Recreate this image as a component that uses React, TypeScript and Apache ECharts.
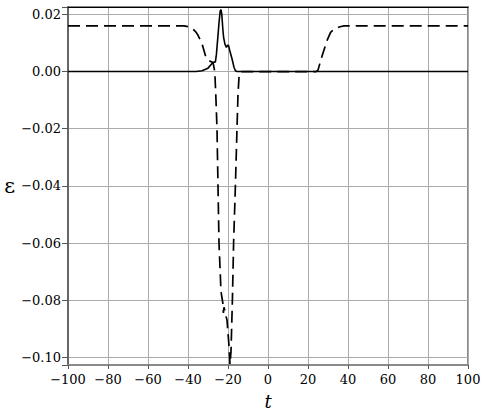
import React, { useEffect, useRef } from "react";
import * as echarts from "echarts";

// t values / epsilon values (solid curve)
const solidT = [-100, -36, -33, -30, -28, -27, -26.3, -25.8, -25.2, -24.5, -23.9, -23.5, -23.1, -22.6, -22.2, -21.5, -20.8, -20.2, -19.7, -19, -18, -17, -16.3, -15.5, 100];
const solidV = [0, 0, 0.0003, 0.0012, 0.0028, 0.0033, 0.0034, 0.006, 0.011, 0.017, 0.0212, 0.0217, 0.02, 0.015, 0.012, 0.0095, 0.0085, 0.0092, 0.0091, 0.007, 0.0045, 0.0015, 0.0003, 0, 0];

// dashed curve
const dashT = [-100, -42, -40, -38.5, -37.5, -36, -35, -33, -31.3, -29.5, -27.5, -26.6, -26, -25.5, -25, -24.5, -23.5, -22.6, -22.3, -22.0, -21.8, -21.2, -20.5, -19.5, -19, -18.5, -17.8, -17.2, -16.3, -15.5, -15, -14.5, -14, -13, 24, 25, 26, 27.5, 29.6, 31.3, 32.8, 34, 36, 38, 100];
const dashV = [0.016, 0.016, 0.0157, 0.0152, 0.0149, 0.0138, 0.0127, 0.0098, 0.0056, 0.0038, 0.0032, 0.0, -0.01, -0.02, -0.04, -0.06, -0.077, -0.081, -0.0845, -0.0825, -0.083, -0.085, -0.087, -0.096, -0.1025, -0.098, -0.08, -0.06, -0.04, -0.02, -0.008, -0.002, -0.0003, 0, 0, 0.0005, 0.003, 0.0065, 0.011, 0.0137, 0.0147, 0.0152, 0.0157, 0.016, 0.016];

const xTicks = [-100, -80, -60, -40, -20, 0, 20, 40, 60, 80, 100];
const yMin = -0.1027;
const yMax = 0.0226;

const FONT = "DejaVu Serif";

function fmtY(v: number): string {
  const k = v / 0.02;
  if (Math.abs(k - Math.round(k)) > 1e-6) return "";
  const r = Math.round(k) * 0.02;
  const s = Math.abs(r).toFixed(2);
  return r < -1e-9 ? "\u2212" + s : s;
}

export default function App() {
  const ref = useRef<HTMLDivElement>(null);
  useEffect(() => {
    if (!ref.current) return;
    const chart = echarts.init(ref.current, null, { renderer: "svg" });
    const solid = solidT.map((t, i) => [t, solidV[i]]);
    const dashed = dashT.map((t, i) => [t, dashV[i]]);
    chart.setOption({
      animation: false,
      backgroundColor: "#ffffff",
      textStyle: { fontFamily: FONT },
      grid: {
        left: 68,
        right: 16,
        top: 7,
        bottom: 51,
        show: true,
        borderColor: "#8a8a8a",
        borderWidth: 2,
      },
      xAxis: [
        {
          type: "value",
          min: xTicks[0],
          max: xTicks[xTicks.length - 1],
          interval: 20,
          name: "t",
          nameLocation: "middle",
          nameGap: 27,
          nameTextStyle: { fontFamily: FONT, fontSize: 18, fontStyle: "italic", color: "#000" },
          axisLine: { show: true, onZero: false, lineStyle: { color: "#8a8a8a", width: 2 } },
          axisTick: { show: true, length: 4, lineStyle: { color: "#555" } },
          axisLabel: {
            fontFamily: FONT,
            fontSize: 13,
            color: "#000",
            margin: 8,
            formatter: (v: number) => (v < 0 ? "\u2212" + Math.abs(v) : String(v)),
          },
          splitLine: { show: true, lineStyle: { color: "#ababab", width: 1 } },
        },
        {
          type: "value",
          position: "top",
          min: -100,
          max: 100,
          interval: 20,
          axisLine: { show: true, onZero: false, lineStyle: { color: "#000", width: 1 } },
          axisTick: { show: false },
          axisLabel: { show: false },
          splitLine: { show: false },
        },
      ],
      yAxis: {
        type: "value",
        min: yMin,
        max: yMax,
        splitNumber: 6,
        name: "\u03b5",
        nameLocation: "middle",
        nameRotate: 0,
        nameGap: 50,
        nameTextStyle: { fontFamily: FONT, fontSize: 21, color: "#000" },
        axisLine: { show: true, onZero: false, lineStyle: { color: "#666", width: 2 } },
        axisTick: {
          show: true,
          length: 6,
          lineStyle: { color: "#555" },
          interval: (_i: number, v: any) => fmtY(Number(v)) !== "",
        },
        axisLabel: {
          fontFamily: FONT,
          fontSize: 13,
          color: "#000",
          margin: 7,
          formatter: (v: number) => fmtY(v),
        },
        splitLine: { show: true, lineStyle: { color: "#ababab", width: 1 } },
      },
      series: [
        {
          type: "line",
          data: solid,
          showSymbol: false,
          symbol: "none",
          lineStyle: { color: "#000", width: 1.6 },
          z: 3,
        },
        {
          type: "line",
          data: dashed,
          showSymbol: false,
          symbol: "none",
          lineStyle: { color: "#000", width: 1.7, type: [12, 6] },
          z: 4,
        },
      ],
    });
    return () => chart.dispose();
  }, []);
  return (
    <div
      ref={ref}
      style={{ position: "fixed", left: 0, top: 0, width: 484, height: 416, background: "#fff" }}
    />
  );
}
